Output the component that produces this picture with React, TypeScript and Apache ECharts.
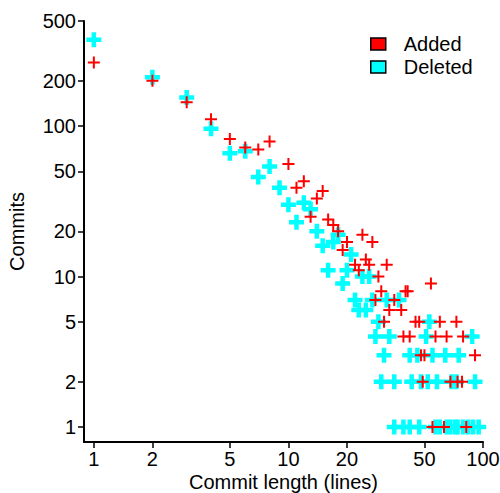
import React, { useEffect, useRef } from "react";
import * as echarts from "echarts";

// Commit length (lines) and number of commits — Added
const addedLength = [1, 2, 3, 4, 5, 6, 7, 8, 10, 11, 12, 13, 14, 15, 16, 17, 18, 19, 20, 22, 23, 24, 25, 26, 27, 28, 29, 30, 31, 32, 33, 35, 38, 39, 40, 41, 42, 45, 47, 48, 49, 50, 54, 55, 57, 60, 63, 65, 68, 73, 74, 78, 79, 82, 91];
const addedCommits = [265, 200, 144, 111, 82, 72, 70, 79, 56, 39, 43, 25, 33, 37, 24, 22, 20, 15, 17, 12, 11, 19, 13, 12, 17, 7, 10, 8, 5, 12, 6, 7, 6, 4, 8, 8, 4, 5, 5, 3, 2, 3, 9, 1, 4, 5, 1, 4, 2, 5, 2, 2, 4, 1, 3];

// Deleted
const deletedLength = [1, 2, 3, 4, 5, 6, 7, 8, 9, 10, 11, 12, 13, 14, 15, 16, 17, 18, 19, 20, 21, 22, 23, 24, 25, 26, 27, 28, 29, 30, 31, 32, 33, 35, 35, 37, 39, 42, 42, 43, 46, 47, 48, 51, 52, 53, 55, 57, 58, 60, 64, 65, 68, 69, 72, 73, 74, 75, 79, 84, 88, 89, 91, 95];
const deletedCommits = [375, 211, 155, 96, 66, 68, 46, 54, 39, 30, 23, 31, 28, 20, 16, 11, 17, 19, 9, 11, 14, 7, 6, 10, 6, 10, 7, 4, 5, 2, 3, 7, 4, 2, 1, 7, 1, 3, 1, 2, 3, 1, 2, 4, 2, 5, 3, 1, 2, 1, 3, 1, 1, 2, 1, 2, 1, 3, 1, 1, 4, 1, 2, 1];

const xTicks = [1, 2, 5, 10, 20, 50, 100];
const yTicks = [1, 2, 5, 10, 20, 50, 100, 200, 500];

const FONT = "Liberation Sans, Arial, Helvetica, sans-serif";
const RED = "#FF0000";
const CYAN = "#00FFFF";

const thinPlus = "path://M5,0 H7 V5 H12 V7 H7 V12 H5 V7 H0 V5 H5 Z";
const thickPlus = "path://M5.25,0 H9.75 V5.25 H15 V9.75 H9.75 V15 H5.25 V9.75 H0 V5.25 H5.25 Z";

const toLog = (xs: number[], ys: number[]) => xs.map((x, i) => [Math.log10(x), Math.log10(ys[i])]);
const fmt = (v: number) => String(Math.round(Math.pow(10, v)));

export default function App() {
  const ref = useRef<HTMLDivElement>(null);
  useEffect(() => {
    if (!ref.current) return;
    const chart = echarts.init(ref.current, null, { renderer: "svg" });
    const axisCommon = {
      type: "value" as const,
      splitLine: { show: false },
      axisLine: { show: true, onZero: false, lineStyle: { color: "#000", width: 2 } },
      axisTick: { show: true, length: 6, lineStyle: { color: "#000", width: 1.5 } },
      nameLocation: "middle" as const,
      nameMoveOverlap: false,
      nameTextStyle: { color: "#000", fontSize: 20, fontFamily: FONT },
    };
    chart.setOption({
      animation: false,
      backgroundColor: "#fff",
      grid: { left: 84, right: 17, top: 21, bottom: 51, containLabel: false, outerBoundsMode: "none" },
      legend: {
        left: 370,
        top: 34,
        padding: 0,
        orient: "vertical",
        itemGap: 3,
        itemWidth: 15,
        itemHeight: 12,
        data: [
          { name: "Added", icon: "rect" },
          { name: "Deleted", icon: "rect" },
        ],
        itemStyle: { borderColor: "#000", borderWidth: 1.5 },
        textStyle: { color: "#000", fontSize: 20, fontFamily: FONT, padding: [0, 0, 0, 13] },
      },
      xAxis: {
        ...axisCommon,
        min: Math.log10(0.89),
        max: 2.000001,
        name: "Commit length (lines)",
        nameGap: 30,
        axisTick: { ...axisCommon.axisTick, customValues: xTicks.map(Math.log10) },
        axisLabel: {
          customValues: xTicks.map(Math.log10),
          formatter: fmt,
          color: "#000",
          fontSize: 20,
          fontFamily: FONT,
          margin: 7,
        },
      },
      yAxis: {
        ...axisCommon,
        min: -0.0997,
        max: Math.log10(500) + 0.000001,
        name: "Commits",
        nameGap: 57,
        axisTick: { ...axisCommon.axisTick, customValues: yTicks.map(Math.log10) },
        axisLabel: {
          customValues: yTicks.map(Math.log10),
          formatter: fmt,
          color: "#000",
          fontSize: 20,
          fontFamily: FONT,
          margin: 8,
        },
      },
      series: [
        {
          name: "Deleted",
          type: "scatter",
          symbol: thickPlus,
          symbolSize: 15,
          itemStyle: { color: CYAN, opacity: 1 },
          data: toLog(deletedLength, deletedCommits),
          z: 2,
        },
        {
          name: "Added",
          type: "scatter",
          symbol: thinPlus,
          symbolSize: 12,
          itemStyle: { color: RED, opacity: 1 },
          data: toLog(addedLength, addedCommits),
          z: 3,
        },
      ],
    });
    return () => chart.dispose();
  }, []);
  return <div ref={ref} style={{ position: "fixed", left: 0, top: 0, width: 500, height: 493 }} />;
}
